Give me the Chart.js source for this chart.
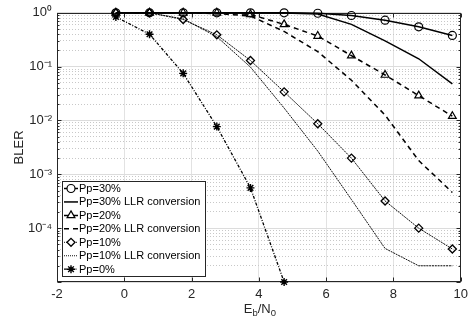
<!DOCTYPE html>
<html><head><meta charset="utf-8">
<script src="https://cdn.jsdelivr.net/npm/chart.js@4/dist/chart.umd.min.js"></script>
<style>html,body{margin:0;padding:0;background:#fff}#wrap{width:473px;height:323px}</style>
</head><body><div id="wrap"><canvas id="c" width="473" height="323"></canvas></div>
<script>
// ---- data ----
const ebn0 = [-0.25, 0.75, 1.75, 2.75, 3.75, 4.75, 5.75, 6.75, 7.75, 8.75, 9.75];
const pp30    = [1, 1, 1, 1, 1, 1, 0.98, 0.89, 0.73, 0.55, 0.38];
const pp30LLR = [1, 1, 1, 1, 1, 0.995, 0.95, 0.61, 0.30, 0.14, 0.048];
const pp20    = [1, 1, 1, 1, 0.93, 0.61, 0.37, 0.16, 0.07, 0.029, 0.012];
const pp20LLR = [1, 1, 1, 0.97, 0.87, 0.45, 0.19, 0.056, 0.0126, 0.0018, 0.00046];
const pp10    = [1, 1, 0.75, 0.39, 0.13, 0.034, 0.0087, 0.0020, 0.00032, 0.0001, 0.000041];
const pp10LLR = [1, 1, 0.77, 0.36, 0.098, 0.017, 0.0027, 0.00034, 0.000042, 0.00002, 0.00002];
const pp0     = [0.84, 0.40, 0.075, 0.0077, 0.00056, 0.00001];
const seriesNames = ['Pp=30%', 'Pp=30% LLR conversion', 'Pp=20%', 'Pp=20% LLR conversion', 'Pp=10%', 'Pp=10% LLR conversion', 'Pp=0%'];
const xTicks = [-2, 0, 2, 4, 6, 8, 10];
const yDecades = [0, -1, -2, -3, -4, -5];
const yTickLabels = {'0': '10\u2070', '-1': '10\u207B\u00B9', '-2': '10\u207B\u00B2', '-3': '10\u207B\u00B3', '-4': '10\u207B\u2074'};
const yMin = 1e-5, yMax = 1;

// tick values (1..9 x 10^k)
const yTickValues = [];
yDecades.slice().reverse().forEach(k => {
  if (k === 0) { yTickValues.push(1); return; }
  for (let m = 1; m <= 9; m++) yTickValues.push(parseFloat((m * Math.pow(10, k)).toPrecision(6)));
});
const isDecade = v => Math.abs(Math.log10(v) - Math.round(Math.log10(v))) < 1e-9;

const pts = (xs, ys) => ys.map((v, i) => ({x: xs[i], y: v}));

const base = {borderColor: '#000', pointBorderColor: '#000', pointBackgroundColor: 'rgba(0,0,0,0)', tension: 0, clip: false, fill: false};
const datasets = [
  Object.assign({}, base, {label: seriesNames[0], data: pts(ebn0, pp30), borderWidth: 1.5, pointStyle: 'circle', pointRadius: 4, pointBorderWidth: 1.2}),
  Object.assign({}, base, {label: seriesNames[1], data: pts(ebn0, pp30LLR), borderWidth: 1.5, pointRadius: 0}),
  Object.assign({}, base, {label: seriesNames[2], data: pts(ebn0, pp20), borderWidth: 1.5, borderDash: [5, 4], pointStyle: 'triangle', pointRadius: 4.5, pointBorderWidth: 1.2}),
  Object.assign({}, base, {label: seriesNames[3], data: pts(ebn0, pp20LLR), borderWidth: 1.5, borderDash: [5, 4], pointRadius: 0}),
  Object.assign({}, base, {label: seriesNames[4], data: pts(ebn0, pp10), borderWidth: 1, borderColor: '#111', borderDash: [2, 0.8], pointStyle: 'rectRot', pointRadius: 4, pointBorderWidth: 1.3}),
  Object.assign({}, base, {label: seriesNames[5], data: pts(ebn0, pp10LLR), borderWidth: 1, borderColor: '#111', borderDash: [2, 0.8], pointRadius: 0}),
  Object.assign({}, base, {label: seriesNames[6], data: pts(ebn0, pp0), borderWidth: 1.3, borderDash: [3, 1.5, 1, 1.5], pointStyle: 'star', pointRadius: 4, pointBorderWidth: 1.4})
];

const frame = {
  id: 'frame',
  beforeDatasetsDraw(chart) {
    const {ctx, chartArea: a, scales} = chart;
    const L = Math.round(a.left) + 0.5, R = Math.round(a.right) - 0.5, T = Math.round(a.top) + 0.5, B = Math.round(a.bottom) - 0.5;
    ctx.save();
    ctx.strokeStyle = '#262626'; ctx.lineWidth = 1;
    ctx.beginPath();
    xTicks.forEach(v => {
      const p = Math.round(scales.x.getPixelForValue(v)) + 0.5;
      ctx.moveTo(p, B); ctx.lineTo(p, B - 4);
      ctx.moveTo(p, T); ctx.lineTo(p, T + 4);
    });
    yTickValues.forEach(v => {
      const p = Math.round(scales.y.getPixelForValue(v)) + 0.5;
      const len = isDecade(v) ? 4 : 2;
      ctx.moveTo(L, p); ctx.lineTo(L + len, p);
      ctx.moveTo(R, p); ctx.lineTo(R - len, p);
    });
    ctx.stroke();
    ctx.strokeRect(L, T, R - L, B - T);
    ctx.restore();
  }
};

const legendBox = {
  id: 'legendBox',
  afterDraw(chart) {
    const {ctx} = chart;
    const bx = 62.5, by = 181.5, bw = 143, bh = 95, rowH = 13.45, y0 = 188.5;
    ctx.save();
    ctx.fillStyle = '#fff'; ctx.fillRect(bx, by, bw, bh);
    ctx.strokeStyle = '#262626'; ctx.lineWidth = 1; ctx.strokeRect(bx, by, bw, bh);
    ctx.font = '11px "Liberation Sans", Arial, sans-serif';
    ctx.textBaseline = 'middle'; ctx.textAlign = 'left';
    chart.data.datasets.forEach((ds, i) => {
      const y = y0 + i * rowH;
      ctx.save();
      ctx.strokeStyle = ds.borderColor; ctx.lineWidth = ds.borderWidth;
      const d = ds.borderDash || [];
      ctx.setLineDash(d.length === 2 && d[0] < 3 ? [1, 1] : d);
      ctx.beginPath(); ctx.moveTo(64, y); ctx.lineTo(78, y); ctx.stroke();
      ctx.setLineDash([]);
      if (ds.pointRadius > 0) {
        ctx.fillStyle = '#fff'; ctx.strokeStyle = '#000';
        ctx.lineWidth = ds.pointBorderWidth;
        Chart.helpers.drawPoint(ctx, {pointStyle: ds.pointStyle, radius: ds.pointRadius, borderWidth: ds.pointBorderWidth, rotation: 0}, 71, y);
      }
      ctx.restore();
      ctx.fillStyle = '#000';
      ctx.fillText(ds.label, 79, y + 0.5);
    });
    ctx.restore();
  }
};

const xTitle = {
  id: 'xTitle',
  afterDraw(chart) {
    const {ctx, chartArea: a} = chart;
    const big = '13px "Liberation Sans", Arial, sans-serif', small = '9.5px "Liberation Sans", Arial, sans-serif';
    const parts = [['E', big, 0], ['b', small, 3.5], ['/N', big, 0], ['0', small, 3.5]];
    ctx.save();
    ctx.fillStyle = '#262626'; ctx.textBaseline = 'alphabetic'; ctx.textAlign = 'left';
    let w = 0;
    parts.forEach(p => { ctx.font = p[1]; w += ctx.measureText(p[0]).width; });
    let x = (a.left + a.right) / 2 - w / 2 + 1;
    const baseY = 312.5;
    parts.forEach(p => { ctx.font = p[1]; ctx.fillText(p[0], x, baseY + p[2]); x += ctx.measureText(p[0]).width; });
    ctx.restore();
  }
};

const tickFont = {family: '"Liberation Sans", Arial, sans-serif', size: 13};

new Chart(document.getElementById('c'), {
  type: 'line',
  data: {datasets},
  options: {
    responsive: false, animation: false, devicePixelRatio: 1,
    layout: {padding: {top: 10, right: 10, left: 0, bottom: 0}},
    plugins: {legend: {display: false}, tooltip: {enabled: false}},
    elements: {line: {borderCapStyle: 'butt'}},
    scales: {
      x: {
        type: 'linear', min: -2, max: 10,
        afterBuildTicks: s => { s.ticks = xTicks.map(v => ({value: v})); },
        ticks: {font: tickFont, color: '#262626', padding: 5, maxRotation: 0},
        grid: {color: '#e2e2e2', lineWidth: 1, drawTicks: false},
        border: {display: false},
        afterFit: s => { s.height = 41; }
      },
      y: {
        type: 'logarithmic', min: yMin, max: yMax, position: 'left',
        afterBuildTicks: s => { s.ticks = yTickValues.map(v => ({value: v, major: isDecade(v)})); },
        ticks: {
          font: tickFont, color: '#262626', padding: 5, autoSkip: false,
          callback: v => {
            if (!isDecade(v)) return '';
            const k = String(Math.round(Math.log10(v)));
            return yTickLabels[k] || '';
          }
        },
        grid: {color: c => (c.tick && isDecade(c.tick.value)) ? '#dcdcdc' : 'rgba(0,0,0,0)', drawTicks: false},
        border: {display: false},
        title: {display: true, text: 'BLER', font: {family: '"Liberation Sans", Arial, sans-serif', size: 13}, color: '#262626', padding: {top: 12, bottom: 0}},
        afterFit: s => { s.width = 57; }
      },
      y2: {
        type: 'logarithmic', min: yMin, max: yMax, position: 'right',
        afterBuildTicks: s => { s.ticks = yTickValues.map(v => ({value: v})); },
        ticks: {display: false, autoSkip: false},
        grid: {color: c => (c.tick && !isDecade(c.tick.value)) ? '#c8c8c8' : 'rgba(0,0,0,0)', drawTicks: false, lineWidth: 1},
        border: {display: false, dash: [1, 2]},
        afterFit: s => { s.width = 0; }
      }
    }
  },
  plugins: [frame, legendBox, xTitle]
});
</script>
</body></html>
